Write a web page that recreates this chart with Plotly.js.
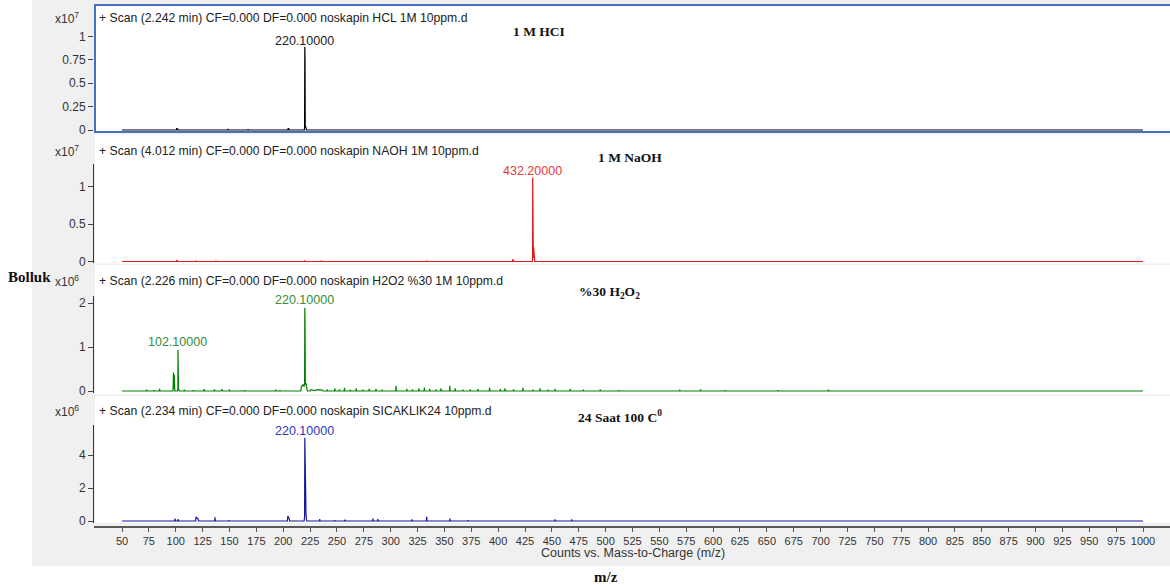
<!DOCTYPE html>
<html>
<head>
<meta charset="utf-8">
<script src="https://cdn.plot.ly/plotly-3.0.1.min.js"></script>
<style>html,body{margin:0;padding:0;background:#fff;}#chart{width:1170px;height:585px;}</style>
</head>
<body>
<div id="chart"></div>
<script>
// ---------------- DATA (m/z, intensity) ----------------
// Panel 1: 1 M HCl, intensity x10^7
const hclProfile = [[50,0],[100.6,0],[100.9,0.02],[101.2,0],[101.6,0],[101.9,0.015],[102.2,0],[148.3,0],[148.6,0.012],[148.9,0],
  [167,0],[167.3,0.008],[167.6,0],[204.3,0],[204.7,0.02],[205.1,0],[205.4,0.015],[205.7,0],
  [219.7,0],[219.9,0.04],[220.1,0.89],[220.3,0.74],[220.5,0.05],[221.0,0.04],[221.3,0.02],[221.6,0],[1000,0]];
// Panel 2: 1 M NaOH, intensity x10^7
const naohProfile = [[50,0],[100.6,0],[101,0.02],[101.3,0.015],[101.6,0],[118.7,0],[119,0.01],[119.3,0],[137.1,0],[137.4,0.008],[137.7,0],
  [219.5,0],[219.9,0.015],[220.2,0],[234.8,0],[235.1,0.01],[235.4,0],[333.3,0],[333.6,0.01],[333.9,0],
  [413.3,0],[413.7,0.03],[414.1,0.02],[414.5,0],[431.8,0],[432.0,0.03],[432.2,1.12],[432.4,0.86],[432.7,0.05],
  [433.0,0.19],[433.3,0.12],[433.6,0.02],[434,0],[1000,0]];
// Panel 3: %30 H2O2, intensity x10^6
const h2o2Profile = [[50,0],[72.7,0],[73,0.03],[73.3,0],[79.7,0],[80,0.02],[80.3,0],[84.7,0],[85,0.05],[85.3,0],
  [97.5,0],[97.9,0.42],[98.3,0.05],[98.7,0.37],[99.1,0],[101.7,0],[102.0,0.05],[102.1,0.93],[102.3,0.67],[102.6,0.05],[103.0,0.03],[103.5,0],
  [107.7,0],[108,0.03],[108.3,0],[115.7,0],[116,0.02],[116.3,0],[126,0],[126.3,0.04],[126.6,0.03],[127,0],
  [135.7,0],[136,0.04],[136.3,0],[142,0],[142.5,0.03],[143,0.03],[143.5,0],[149.7,0],[150,0.04],[150.3,0],
  [163.7,0],[164,0.02],[164.3,0],[192.7,0],[193,0.03],[193.3,0],[196.7,0],[197,0.02],[197.3,0],
  [216.5,0],[217,0.12],[217.5,0.1],[218.5,0.15],[219.5,0.1],[219.9,0.2],[220.1,1.89],[220.3,1.54],[220.6,0.15],[221.2,0.18],[222,0.05],[222.5,0],
  [225,0],[226,0.03],[229,0.01],[232,0.03],[236,0.02],[237,0],[240.7,0],[241,0.04],[241.3,0],[247.7,0],[248,0.06],[248.3,0],
  [252,0],[252.3,0.04],[252.6,0],[256.7,0],[257,0.07],[257.3,0],[262,0],[262.3,0.03],[262.6,0],[267.7,0],[268,0.06],[268.3,0],
  [273.7,0],[274,0.03],[274.3,0],[279.7,0],[280,0.05],[280.3,0],[286,0],[286.3,0.05],[286.6,0],[291.7,0],[292,0.03],[292.3,0],
  [304.7,0],[305,0.12],[305.3,0],[314.7,0],[315,0.05],[315.3,0],[320,0],[320.3,0.04],[320.6,0],[326,0],[326.3,0.06],[326.6,0],
  [331,0],[331.3,0.08],[331.6,0],[336,0],[336.3,0.05],[336.6,0],[342,0],[342.3,0.04],[342.6,0],[346.5,0],[346.8,0.06],[347.1,0],
  [354.7,0],[355,0.12],[355.3,0],[359.7,0],[360,0.06],[360.3,0],[367,0],[367.3,0.03],[367.6,0],[373.7,0],[374,0.04],[374.3,0],
  [381,0],[381.3,0.05],[381.6,0],[391.7,0],[392,0.08],[392.3,0],[401.7,0],[402,0.05],[402.3,0],[406,0],[406.3,0.06],[406.6,0],
  [414,0],[414.3,0.04],[414.6,0],[422.7,0],[423,0.07],[423.3,0],[432,0],[432.3,0.03],[432.6,0],[438.7,0],[439,0.06],[439.3,0],
  [446,0],[446.3,0.03],[446.6,0],[452.7,0],[453,0.05],[453.3,0],[466.7,0],[467,0.05],[467.3,0],[479,0],[479.3,0.03],[479.6,0],
  [494.7,0],[495,0.04],[495.3,0],[512,0],[512.3,0.02],[512.6,0],[568.7,0],[569,0.03],[569.3,0],[588,0],[588.3,0.04],[588.6,0],
  [611,0],[611.3,0.02],[611.6,0],[660,0],[660.3,0.02],[660.6,0],[707,0],[707.3,0.03],[707.6,0],[1000,0]];
// Panel 4: 24 Saat 100 C, intensity x10^6
const heatProfile = [[50,0],[99,0],[99.3,0.15],[99.6,0],[101.7,0],[102,0.1],[102.3,0.08],[102.6,0],
  [118.5,0],[118.9,0.25],[119.3,0.2],[120.7,0.15],[121.1,0],[136.2,0],[136.5,0.22],[136.8,0],[149.3,0],[149.6,0.05],[149.9,0],
  [203.9,0],[204.3,0.3],[204.7,0.25],[205.5,0.15],[206,0],[219.5,0],[219.9,0.3],[220.1,5.05],[220.3,4.26],[220.6,0.42],[221.2,0.4],[221.6,0.1],[222,0],
  [233.7,0],[234,0.12],[234.3,0],[247.7,0],[248,0.05],[248.3,0],[257.2,0],[257.5,0.08],[257.8,0],[283.2,0],[283.5,0.15],[283.8,0],
  [287.7,0],[288,0.12],[288.3,0],[319.3,0],[319.6,0.1],[319.9,0],[333.2,0],[333.5,0.25],[333.8,0],[354.9,0],[355.2,0.15],[355.5,0],
  [371.7,0],[372,0.05],[372.3,0],[452.6,0],[452.9,0.1],[453.2,0],[468.1,0],[468.4,0.1],[468.7,0],[1000,0]];

const panelHeaders = [
  "+ Scan (2.242 min) CF=0.000 DF=0.000 noskapin HCL 1M 10ppm.d",
  "+ Scan (4.012 min) CF=0.000 DF=0.000 noskapin NAOH 1M 10ppm.d",
  "+ Scan (2.226 min) CF=0.000 DF=0.000 noskapin H2O2 %30 1M 10ppm.d",
  "+ Scan (2.234 min) CF=0.000 DF=0.000 noskapin SICAKLIK24 10ppm.d"
];
const panelTitles = ["1 M HCI", "1 M NaOH", "%30 H<sub>2</sub>O<sub>2</sub>", "24 Saat 100 C<sup>0</sup>"];
const panelExponents = ["x10<sup>7</sup>", "x10<sup>7</sup>", "x10<sup>6</sup>", "x10<sup>6</sup>"];
const yTicks1 = [0, 0.25, 0.5, 0.75, 1];   const yTickText1 = ["0", "0.25", "0.5", "0.75", "1"];
const yTicks2 = [0, 0.5, 1];               const yTickText2 = ["0", "0.5", "1"];
const yTicks3 = [0, 1, 2];                 const yTickText3 = ["0", "1", "2"];
const yTicks4 = [0, 2, 4];                 const yTickText4 = ["0", "2", "4"];
const xTicks = [50,75,100,125,150,175,200,225,250,275,300,325,350,375,400,425,450,475,500,525,550,575,600,625,650,675,700,725,750,775,800,825,850,875,900,925,950,975,1000];
// peak labels: [panel, m/z, label]
const peakLabels = [[1, 220.1, "220.10000"], [2, 432.2, "432.20000"], [3, 220.1, "220.10000"], [3, 102.1, "102.10000"], [4, 220.1, "220.10000"]];

// ---------------- LAYOUT ----------------
const W = 1170, H = 585, L = 94, B = 59, PW = W - L, PH = H - B;
const fx = px => (px - L) / PW;
const fy = py => (PH - py) / PH;
const SANS = "Liberation Sans, Arial, sans-serif";
const SERIF = "Liberation Serif, Times New Roman, serif";

const traceColors = ["#000000", "rgb(222,25,25)", "rgb(0,128,0)", "rgb(20,20,160)"];
const labelColors = ["#222222", "rgb(228,60,60)", "rgb(55,140,55)", "rgb(45,55,185)"];
const profiles = [hclProfile, naohProfile, h2o2Profile, heatProfile];

// pixel geometry: [zeroPx, pxPerUnit, topPx, bottomPx]
const geo = [[130, 93.5, 30, 131], [261.5, 75, 164, 263], [391, 44, 296, 393], [521, 16.5, 425, 522.5]];
const ticksets = [[yTicks1, yTickText1], [yTicks2, yTickText2], [yTicks3, yTickText3], [yTicks4, yTickText4]];

const traces = profiles.map((p, i) => ({
  x: p.map(d => d[0]), y: p.map(d => d[1]),
  type: "scatter", mode: "lines",
  line: {color: traceColors[i], width: 1.2},
  xaxis: "x", yaxis: i === 0 ? "y" : "y" + (i + 1),
  hoverinfo: "skip", showlegend: false
}));

const layout = {
  width: W, height: H,
  margin: {l: L, r: 0, t: 0, b: B, pad: 0},
  paper_bgcolor: "#ffffff", plot_bgcolor: "rgba(0,0,0,0)",
  showlegend: false,
  font: {family: SANS, size: 12, color: "#333"},
  xaxis: {
    range: [50 - 28 / 1.0747, 1000 + 27 / 1.0747],
    anchor: "free", position: 0, domain: [0, 1],
    tickmode: "array", tickvals: xTicks, ticktext: xTicks.map(String),
    ticks: "outside", ticklen: 4, tickcolor: "#555", tickwidth: 1,
    showline: true, linecolor: "#5a5a5a", linewidth: 1.5,
    showgrid: false, zeroline: false,
    tickfont: {family: SANS, size: 11, color: "#333"},
    fixedrange: true
  },
  shapes: [], annotations: []
};

geo.forEach((g, i) => {
  const [z, ppu, top, bot] = g;
  const key = i === 0 ? "yaxis" : "yaxis" + (i + 1);
  layout[key] = {
    domain: [fy(bot), fy(top)],
    range: [(z - bot) / ppu, (z - top) / ppu],
    anchor: "x",
    tickmode: "array", tickvals: ticksets[i][0], ticktext: ticksets[i][1],
    ticks: "outside", ticklen: 5, tickcolor: "#444", tickwidth: 1,
    showline: i !== 0, linecolor: "#333", linewidth: 1,
    showgrid: false, zeroline: false,
    tickfont: {family: SANS, size: 12, color: "#333"},
    fixedrange: true
  };
});

// backgrounds
layout.shapes.push({type: "rect", xref: "paper", yref: "paper", layer: "below",
  x0: fx(32), x1: fx(1172), y0: fy(566), y1: fy(-2), fillcolor: "#f0f0f0", line: {width: 0}});
[[5, 132], [134, 263.5], [265, 394.5], [396, 523]].forEach(r => {
  layout.shapes.push({type: "rect", xref: "paper", yref: "paper", layer: "below",
    x0: fx(95), x1: fx(1172), y0: fy(r[1]), y1: fy(r[0]), fillcolor: "#ffffff", line: {width: 0}});
});
// selection border on first panel
layout.shapes.push({type: "rect", xref: "paper", yref: "paper", layer: "above",
  x0: fx(95), x1: fx(1175), y0: fy(132), y1: fy(5), fillcolor: "rgba(0,0,0,0)",
  line: {color: "rgb(68,114,196)", width: 2}});

const headerY = [18, 151, 281, 411];
const titlePos = [[539, 31], [630, 157], [609, 293], [620, 416]];
const expY = [18, 151, 281, 411];
function ann(px, py, text, opts) {
  return Object.assign({xref: "paper", yref: "paper", x: fx(px), y: fy(py), text: text,
    showarrow: false, xanchor: "center", yanchor: "middle"}, opts || {});
}
for (let i = 0; i < 4; i++) {
  layout.annotations.push(ann(97, headerY[i], panelHeaders[i],
    {xanchor: "left", font: {family: SANS, size: 12.2, color: "#222"}}));
  layout.annotations.push(ann(titlePos[i][0], titlePos[i][1], "<b>" + panelTitles[i] + "</b>",
    {font: {family: SERIF, size: 13.5, color: "#111"}}));
  layout.annotations.push(ann(81, expY[i], panelExponents[i],
    {xanchor: "right", font: {family: SANS, size: 12, color: "#333"}}));
}
// peak labels, placed through the data axes
const peakLabelY = {1: 41.5, 2: 170.5, 3: 300, 4: 430.5};
const peak3b = 341.5;
peakLabels.forEach((p) => {
  const [panel, mz, txt] = p;
  const py = (panel === 3 && mz < 150) ? peak3b : peakLabelY[panel];
  layout.annotations.push({xref: "x", yref: "paper", x: mz, y: fy(py), text: txt,
    showarrow: false, xanchor: "center", yanchor: "middle",
    font: {family: SANS, size: 12.5, color: labelColors[panel - 1]}});
});
layout.annotations.push(ann(633, 553, "Counts vs. Mass-to-Charge (m/z)", {font: {family: SANS, size: 12.5, color: "#333"}}));
layout.annotations.push(ann(29, 277, "<b>Bolluk</b>", {font: {family: SERIF, size: 15, color: "#111"}}));
layout.annotations.push(ann(606, 577, "<b>m/z</b>", {font: {family: SERIF, size: 15, color: "#111"}}));

Plotly.newPlot("chart", traces, layout, {displayModeBar: false, staticPlot: true});
</script>
</body>
</html>
